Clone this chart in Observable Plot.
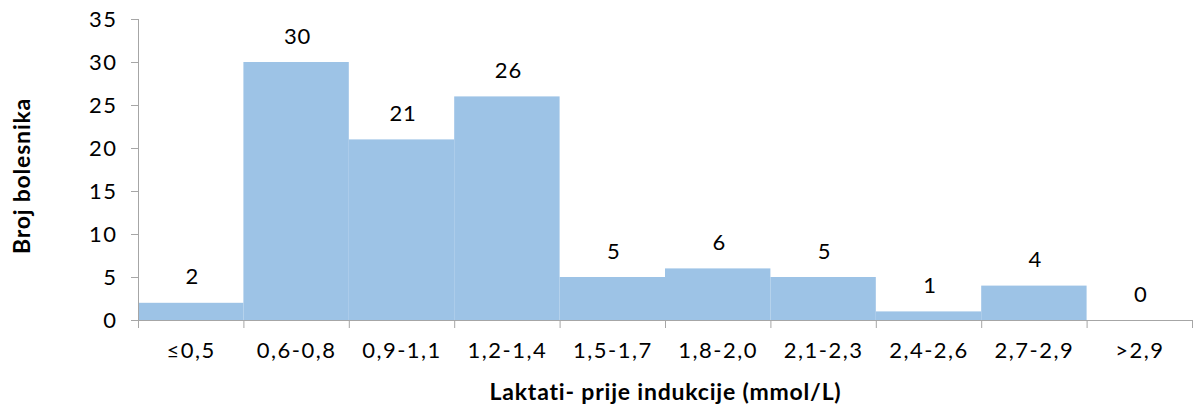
<!DOCTYPE html>
<html>
<head>
<meta charset="utf-8">
<script src="https://cdn.jsdelivr.net/npm/d3@7"></script>
<script src="https://cdn.jsdelivr.net/npm/@observablehq/plot@0.6"></script>
<style>
  html, body { margin: 0; padding: 0; background: #fff; }
  #chart { width: 1193px; height: 410px; }
  #chart svg text { letter-spacing: 0.8px; }
  #chart svg g[aria-label="y-axis tick label"] text,
  #chart svg g[aria-label="x-axis tick label"] text,
  #chart svg g[aria-label="value-label"] text { letter-spacing: 1.5px; }
</style>
</head>
<body>
<div id="chart"></div>
<script>
const categories = ["≤0,5", "0,6-0,8", "0,9-1,1", "1,2-1,4", "1,5-1,7", "1,8-2,0", "2,1-2,3", "2,4-2,6", "2,7-2,9", ">2,9"];
const counts = [2, 30, 21, 26, 5, 6, 5, 1, 4, 0];
const yTicks = [0, 5, 10, 15, 20, 25, 30, 35];
const yTitle = "Broj bolesnika";
const xTitle = "Laktati- prije indukcije (mmol/L)";

const data = categories.map((c, i) => ({cat: c, idx: i, value: counts[i]}));
const boundaries = d3.range(categories.length + 1);
const centers = categories.map((_, i) => i + 0.5);

const font = "Lato, 'Open Sans', sans-serif";
const axisGray = "#a6a6a6";

const chart = Plot.plot({
  width: 1193,
  height: 410,
  marginLeft: 138,
  marginRight: 1,
  marginTop: 19,
  marginBottom: 90,
  style: {fontFamily: font, background: "#fff", color: "#000"},
  x: {type: "linear", domain: [0, categories.length]},
  y: {domain: [0, 35]},
  marks: [
    Plot.rectY(data, {x1: "idx", x2: d => d.idx + 1, y: "value", fill: "#9dc3e6"}),
    Plot.ruleY([0], {stroke: axisGray, strokeWidth: 1}),
    Plot.ruleX([0], {y1: 0, y2: 35, stroke: axisGray, strokeWidth: 1}),
    Plot.axisY({ticks: yTicks, tickSize: 7, tickPadding: 14, stroke: axisGray, fill: "#000", fontSize: 22, label: null}),
    Plot.axisX({ticks: boundaries, tickSize: 8, tickFormat: () => "", stroke: axisGray, label: null, ariaLabel: "x-boundary"}),
    Plot.axisX({ticks: centers, tickSize: 0, tickPadding: 22, tickFormat: d => categories[Math.floor(d)], fill: "#000", fontSize: 22, label: null}),
    Plot.text(data, {x: d => d.idx + 0.5, y: "value", text: d => String(d.value), dx: 1, dy: -26, fontSize: 22, fill: "#000", lineAnchor: "middle", ariaLabel: "value-label"}),
    Plot.text([yTitle], {frameAnchor: "left", textAnchor: "middle", dx: -116, dy: 6, rotate: -90, fontSize: 23, fontWeight: "bold", fill: "#000", lineAnchor: "middle"}),
    Plot.text([xTitle], {frameAnchor: "bottom", dy: 72, fontSize: 23, fontWeight: "bold", fill: "#000", lineAnchor: "middle"})
  ]
});
document.getElementById("chart").appendChild(chart);
</script>
</body>
</html>
